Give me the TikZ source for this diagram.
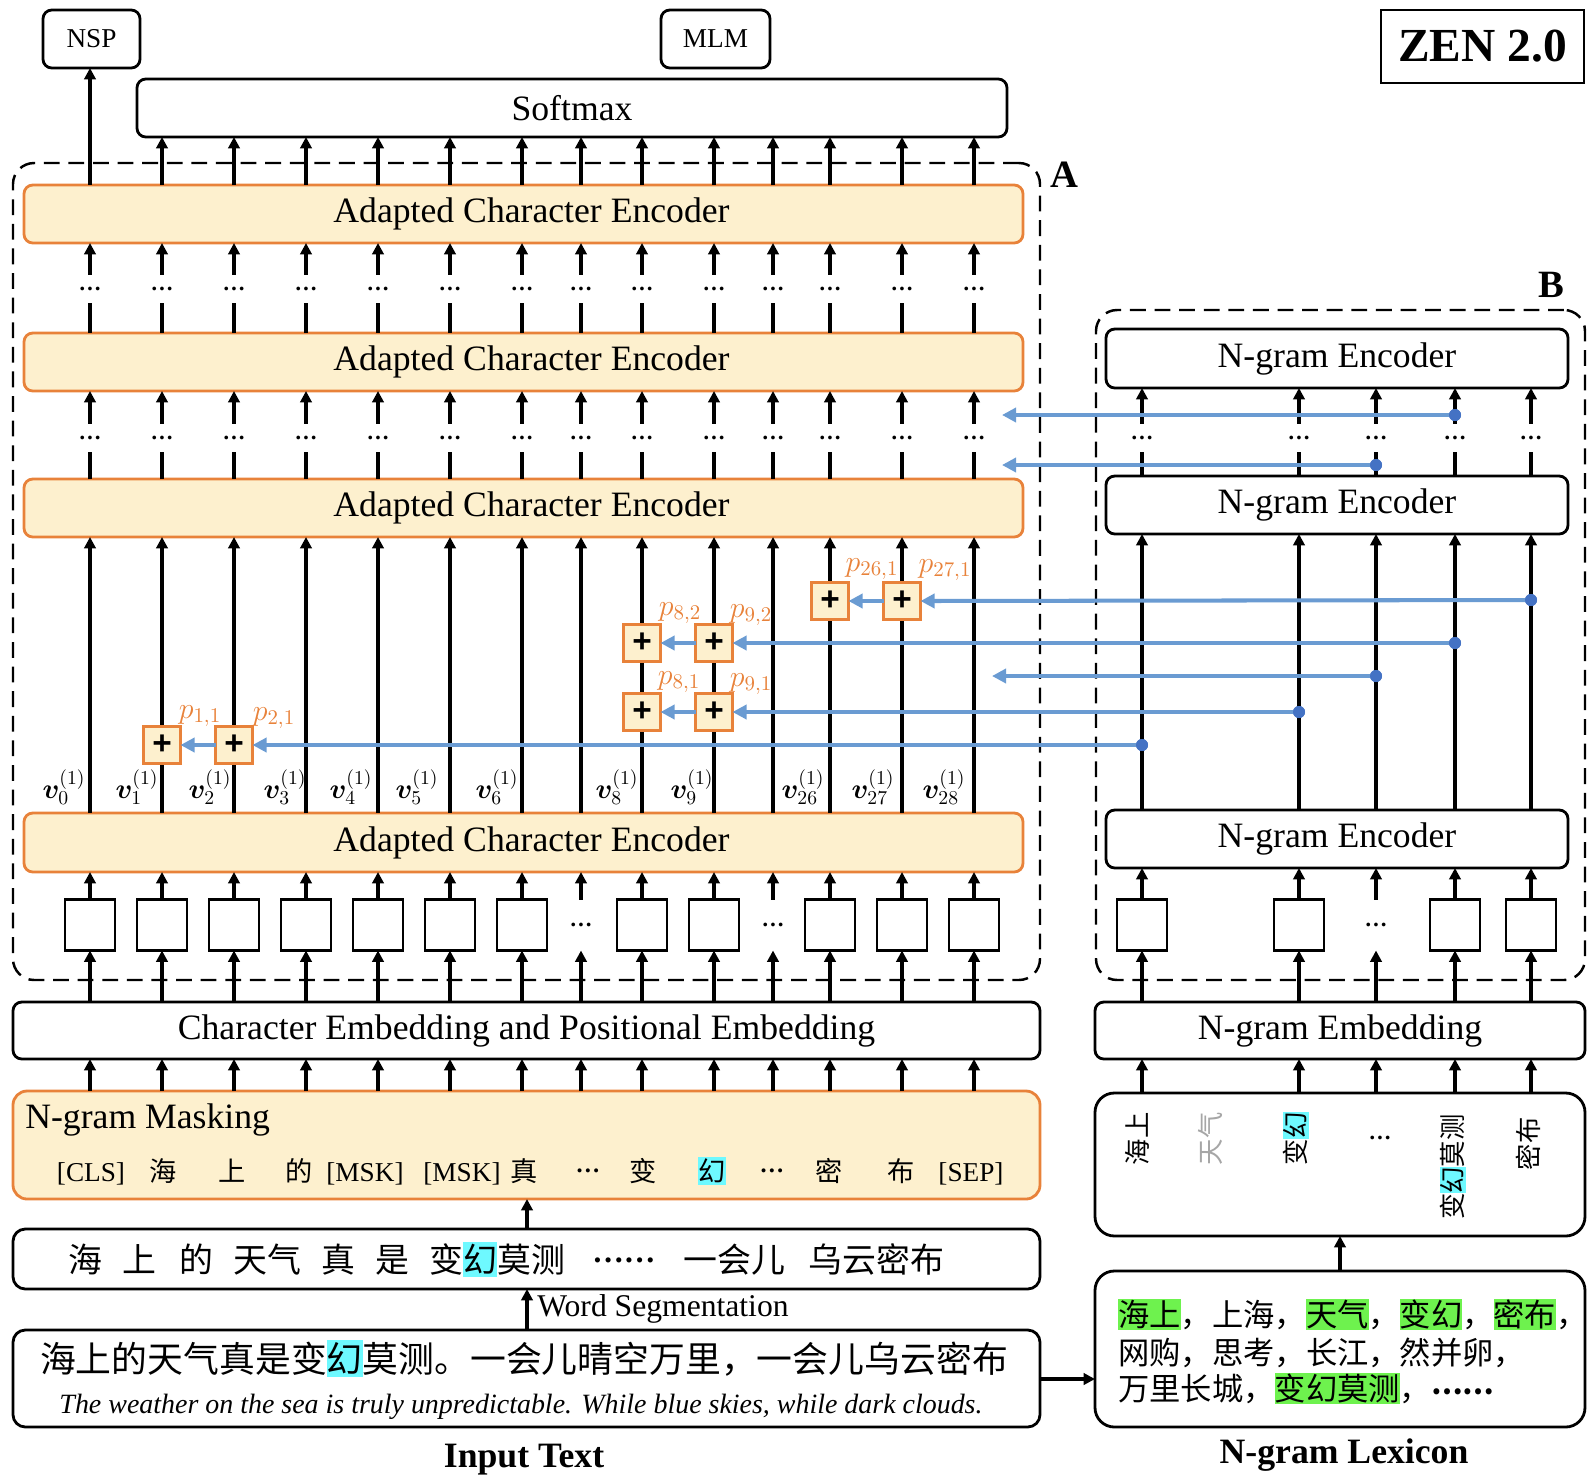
\RequirePackage{fix-cm}
\documentclass[tikz,border=0pt]{standalone}
\usepackage{fontspec}
\usepackage{bm}
\setmainfont{Liberation Serif}
\newfontfamily\cjk{Noto Sans CJK SC}
\newfontfamily\sansf{Liberation Sans}
\usetikzlibrary{arrows.meta}
\definecolor{encorange}{HTML}{E8823A}
\definecolor{encfill}{HTML}{FDF0CE}
\definecolor{lblue}{HTML}{6A9BD2}
\definecolor{dblue}{HTML}{4472C4}
\definecolor{hcyan}{HTML}{6EF9FF}
\definecolor{hgreen}{HTML}{6EF24E}
\newcommand\hlc[1]{{\setlength{\fboxsep}{0pt}\colorbox{hcyan}{\rule[-0.14em]{0pt}{1.02em}#1}}}
\newcommand\hlg[1]{{\setlength{\fboxsep}{0pt}\colorbox{hgreen}{\rule[-0.14em]{0pt}{1.02em}#1}}}
\newcommand\fz[1]{\fontsize{#1}{#1}\selectfont}
\newcommand\ace{\hspace*{0.32cm}Adapted Character Encoder}
\tikzset{
  bx/.style n args={4}{minimum width={(#3-#1)*0.02cm}, minimum height={(#4-#2)*0.02cm}, at={({(#1+#3)/2},{(#2+#4)/2})}},
  pbox/.style={draw=black, line width=1.6pt, fill=white, rounded corners=5pt, inner sep=0pt, outer sep=0pt, font=\fz{20.3}},
  ebox/.style={draw=encorange, fill=encfill, line width=1.6pt, rounded corners=5pt, inner sep=0pt, outer sep=0pt, font=\fz{20.3}},
  dbox/.style={draw=black, line width=1.4pt, dash pattern=on 9pt off 5pt, rounded corners=12pt, inner sep=0pt, outer sep=0pt},
  sqbox/.style={draw=black, line width=1.6pt, fill=white, minimum width=1cm, minimum height=1.02cm, inner sep=0pt, outer sep=0pt},
  dotsq/.style={minimum width=1cm, minimum height=1.02cm, inner sep=0pt, outer sep=0pt, font=\bfseries\fz{13}},
  gapdots/.style={minimum height=0.56cm, inner sep=0pt, outer sep=0pt, font=\bfseries\fz{13}},
  arr/.style={line width=1.8pt, -{Triangle[length=6.5pt,width=6.5pt]}},
  ln/.style={line width=1.8pt},
  bl/.style={draw=lblue, line width=2.3pt, -{Triangle[length=8pt,width=8pt]}},
  plus/.style={draw=encorange, fill=encfill, line width=1.5pt, minimum size=0.74cm, inner sep=0pt, outer sep=0pt, font=\sansf\bfseries\fz{19}},
  bdot/.style={circle, fill=dblue, minimum size=0.24cm, inner sep=0pt, outer sep=0pt},
  plab/.style={text=encorange, font=\fz{17}, inner sep=0pt},
  vlab/.style={font=\fz{16}, inner sep=0pt},
  vtext/.style={rotate=90, anchor=east, inner sep=0pt, font=\cjk\fz{15}},
  tok/.style={anchor=base, inner sep=0pt, font=\fz{15.5}},
  ctok/.style={anchor=base, inner sep=0pt, font=\cjk\fz{15.5}},
  seg/.style={anchor=base west, inner sep=0pt, font=\cjk\fz{19.3}},
  lexl/.style={anchor=base west, inner sep=0pt, font=\cjk\fz{17.8}},
}
\begin{document}
\begin{tikzpicture}[x=0.02cm,y=-0.02cm]
\useasboundingbox (0,0) rectangle (1596,1482);
\foreach \i/\x in {0/90,1/162,2/234,3/306,4/378,5/450,6/522,7/581,8/642,9/714,10/773,11/830,12/902,13/974}
  \coordinate (c\i) at (\x,0);
\foreach \i/\x in {1/1142,2/1299,3/1376,4/1455,5/1531}
  \coordinate (b\i) at (\x,0);
\coordinate (rowA) at (0,288.5);
\coordinate (rowB) at (0,437.5);
\coordinate (rowS) at (0,925);
\coordinate (cmid) at (527,0);
\coordinate (lexmid) at (1340,0);
\coordinate (ylex) at (0,1379);

% dashed frames
\node[dbox, bx={13}{163}{1040}{980}] (frameA) {};
\node[dbox, bx={1096}{310}{1585}{980}] (frameB) {};
\node[font=\bfseries\fz{22}, inner sep=0pt] (labA) at (1064,175) {A};
\node[font=\bfseries\fz{22}, inner sep=0pt] (labB) at (1551,285) {B};

% top
\node[pbox, bx={43}{10}{140}{68}, font=\fz{15.5}] (nsp) {NSP};
\node[pbox, bx={661}{10}{770}{68}, font=\fz{15.5}] (mlm) {MLM};
\node[draw=black, line width=1.2pt, bx={1381}{10}{1584}{83}, inner sep=0pt, font=\bfseries\fz{27}] (zen) {ZEN 2.0};
\node[pbox, bx={137}{79}{1007}{137}] (soft) {Softmax};

% character encoders
\node[ebox, bx={24}{185}{1023}{243}] (enc1) {\ace};
\node[ebox, bx={24}{333}{1023}{391}] (enc2) {\ace};
\node[ebox, bx={24}{479}{1023}{537}] (enc3) {\ace};
\node[ebox, bx={24}{813}{1023}{872}] (enc4) {\ace};

% n-gram encoders
\node[pbox, bx={1106}{329}{1568}{388}] (ng3) {N-gram Encoder};
\node[pbox, bx={1106}{476}{1568}{534}] (ng2) {N-gram Encoder};
\node[pbox, bx={1106}{810}{1568}{868}] (ng1) {N-gram Encoder};

% lower boxes left
\node[pbox, bx={13}{1002}{1040}{1059}] (emb) {Character Embedding and Positional Embedding};
\node[ebox, rounded corners=8pt, bx={13}{1091}{1040}{1199}] (mask) {};
\node[pbox, rounded corners=7pt, bx={13}{1229}{1040}{1289}] (segb) {};
\node[pbox, rounded corners=7pt, bx={13}{1330}{1040}{1427}] (inp) {};

% lower boxes right
\node[pbox, bx={1095}{1002}{1585}{1059}] (nemb) {N-gram Embedding};
\node[pbox, rounded corners=11pt, bx={1095}{1093}{1585}{1236}] (vbox) {};
\node[pbox, rounded corners=11pt, bx={1095}{1271}{1585}{1427}] (lex) {};

% top arrows
\draw[arr] (enc1.north -| c0) -- (nsp.south -| c0);
\foreach \i in {1,...,13} \draw[arr] (enc1.north -| c\i) -- (soft.south -| c\i);

% gaps with dots between encoders
\foreach \i in {0,...,13} {
  \node[gapdots] (ga\i) at (c\i |- rowA) {…};
  \draw[arr] (ga\i.north) -- (enc1.south -| c\i);
  \draw[ln] (enc2.north -| c\i) -- (ga\i.south);
  \node[gapdots] (gb\i) at (c\i |- rowB) {…};
  \draw[arr] (gb\i.north) -- (enc2.south -| c\i);
  \draw[ln] (enc3.north -| c\i) -- (gb\i.south);
}
\foreach \i in {1,...,5} {
  \node[gapdots] (gn\i) at (b\i |- rowB) {…};
  \draw[arr] (gn\i.north) -- (ng3.south -| b\i);
  \draw[ln] (ng2.north -| b\i) -- (gn\i.south);
}

% long vertical arrows
\foreach \i in {0,...,13} \draw[arr] (enc4.north -| c\i) -- (enc3.south -| c\i);
\foreach \i in {1,...,5} \draw[arr] (ng1.north -| b\i) -- (ng2.south -| b\i);

% squares left
\foreach \i in {0,1,2,3,4,5,6,8,9,11,12,13} \node[sqbox] (sq\i) at (c\i |- rowS) {};
\foreach \i in {7,10} \node[dotsq] (sq\i) at (c\i |- rowS) {…};
\foreach \i in {0,...,13} {
  \draw[arr] (sq\i.north) -- (enc4.south -| c\i);
  \draw[arr] (emb.north -| c\i) -- (sq\i.south);
  \draw[arr] (mask.north -| c\i) -- (emb.south -| c\i);
}
% squares right
\foreach \i in {1,2,4,5} \node[sqbox] (bsq\i) at (b\i |- rowS) {};
\node[dotsq] (bsq3) at (b3 |- rowS) {…};
\foreach \i in {1,...,5} {
  \draw[arr] (bsq\i.north) -- (ng1.south -| b\i);
  \draw[arr] (nemb.north -| b\i) -- (bsq\i.south);
  \draw[arr] (vbox.north -| b\i) -- (nemb.south -| b\i);
}

% input flow
\draw[arr] (segb.north -| cmid) -- (mask.south -| cmid);
\draw[arr] (inp.north -| cmid) -- (segb.south -| cmid);
\node[anchor=base west, inner sep=0pt, font=\fz{18}] (wseg) at (537,1316) {Word Segmentation};
\draw[arr] (inp.east |- ylex) -- (lex.west |- ylex);
\draw[arr] (lex.north -| lexmid) -- (vbox.south -| lexmid);

% plus boxes
\node[plus] (pl11) at (162,745) {+};
\node[plus] (pl21) at (234,745) {+};
\node[plus] (pl81) at (642,712) {+};
\node[plus] (pl91) at (714,712) {+};
\node[plus] (pl82) at (642,643) {+};
\node[plus] (pl92) at (714,643) {+};
\node[plus] (pl261) at (830,601) {+};
\node[plus] (pl271) at (902,601) {+};
\node[plab] (lp11) at (200,716) {$p_{1,1}$};
\node[plab] (lp21) at (274,718) {$p_{2,1}$};
\node[plab] (lp81) at (679,682) {$p_{8,1}$};
\node[plab] (lp91) at (751,684) {$p_{9,1}$};
\node[plab] (lp82) at (680,613) {$p_{8,2}$};
\node[plab] (lp92) at (751,615) {$p_{9,2}$};
\node[plab] (lp261) at (872,569) {$p_{26,1}$};
\node[plab] (lp271) at (945,570) {$p_{27,1}$};

% blue connections
\node[bdot] (bd1) at (1455,415) {};
\node[bdot] (bd2) at (1376,465) {};
\node[bdot] (bd3) at (1531,600) {};
\node[bdot] (bd4) at (1455,643) {};
\node[bdot] (bd5) at (1376,676) {};
\node[bdot] (bd6) at (1299,712) {};
\node[bdot] (bd7) at (1142,745) {};
\coordinate (e1) at (1002,415);
\coordinate (e2) at (1002,465);
\coordinate (e3) at (992,676);
\draw[bl] (bd1.center) -- (e1);
\draw[bl] (bd2.center) -- (e2);
\draw[bl] (bd3.center) -- (pl271.east);
\draw[bl] (pl271.west) -- (pl261.east);
\draw[bl] (bd4.center) -- (pl92.east);
\draw[bl] (pl92.west) -- (pl82.east);
\draw[bl] (bd5.center) -- (e3);
\draw[bl] (bd6.center) -- (pl91.east);
\draw[bl] (pl91.west) -- (pl81.east);
\draw[bl] (bd7.center) -- (pl21.east);
\draw[bl] (pl21.west) -- (pl11.east);
\foreach \n in {1,...,7}
  \fill[dblue] (bd\n) circle[radius=6];

% v labels
\node[vlab] (v0) at (64,787) {$\bm{v}_{0}^{(1)}$};
\node[vlab] (v1) at (137,787) {$\bm{v}_{1}^{(1)}$};
\node[vlab] (v2) at (210,787) {$\bm{v}_{2}^{(1)}$};
\node[vlab] (v3) at (285,787) {$\bm{v}_{3}^{(1)}$};
\node[vlab] (v4) at (351,787) {$\bm{v}_{4}^{(1)}$};
\node[vlab] (v5) at (417,787) {$\bm{v}_{5}^{(1)}$};
\node[vlab] (v6) at (497,787) {$\bm{v}_{6}^{(1)}$};
\node[vlab] (v8) at (617,787) {$\bm{v}_{8}^{(1)}$};
\node[vlab] (v9) at (692,787) {$\bm{v}_{9}^{(1)}$};
\node[vlab] (v26) at (803,787) {$\bm{v}_{26}^{(1)}$};
\node[vlab] (v27) at (873,787) {$\bm{v}_{27}^{(1)}$};
\node[vlab] (v28) at (944,787) {$\bm{v}_{28}^{(1)}$};

% masking contents
\node[anchor=base west, inner sep=0pt, font=\fz{20.3}] (masklab) at (25,1128) {N-gram Masking};
\node[tok] (t0) at (91,1181) {[CLS]};
\node[ctok] (t1) at (163,1181) {海};
\node[ctok] (t2) at (232,1181) {上};
\node[ctok] (t3) at (299,1181) {的};
\node[tok] (t4) at (365,1181) {[MSK]};
\node[tok] (t5) at (462,1181) {[MSK]};
\node[ctok] (t6) at (524,1181) {真};
\node[tok, font=\bfseries\fz{14}] (t7) at (588,1181) {\raisebox{0.35em}{…}};
\node[ctok] (t8) at (643,1181) {变};
\node[ctok] (t9) at (712,1181) {\hlc{幻}};
\node[tok, font=\bfseries\fz{14}] (t10) at (772,1181) {\raisebox{0.35em}{…}};
\node[ctok] (t11) at (829,1181) {密};
\node[ctok] (t12) at (901,1181) {布};
\node[tok] (t13) at (971,1181) {[SEP]};

% segmented text
\node[seg] (s1) at (68,1272) {海};
\node[seg] (s2) at (122,1272) {上};
\node[seg] (s3) at (179,1272) {的};
\node[seg] (s4) at (233,1272) {天气};
\node[seg] (s5) at (321,1272) {真};
\node[seg] (s6) at (375,1272) {是};
\node[seg] (s7) at (429,1272) {变\hlc{幻}莫测};
\node[seg, font=\bfseries\fz{18}] (s8) at (592,1272) {\raisebox{0.3em}{……}};
\node[seg] (s9) at (683,1272) {一会儿};
\node[seg] (s10) at (808,1272) {乌云密布};

% input text
\node[anchor=base, inner sep=0pt, font=\cjk\fz{20.4}] (inzh) at (524,1372) {海上的天气真是变\hlc{幻}莫测。一会儿晴空万里，一会儿乌云密布};
\node[anchor=base, inner sep=0pt, font=\itshape\fz{15.9}] (inen) at (521,1413) {The weather on the sea is truly unpredictable. While blue skies, while dark clouds.};
\node[font=\bfseries\fz{20.3}, inner sep=0pt] (intitle) at (524,1460) {Input Text};

% vertical n-grams
\node[vtext] (vt1) at (1137,1112) {海上};
\node[vtext, text=gray!70] (vt2) at (1210,1112) {天气};
\node[vtext] (vt3) at (1296,1112) {变\hlc{幻}};
\node[font=\bfseries\fz{13}, inner sep=0pt] (vt4) at (1380,1138) {…};
\node[vtext] (vt5) at (1453,1114) {变\hlc{幻}莫测};
\node[vtext] (vt6) at (1528,1117) {密布};

% lexicon
\node[lexl] (lx1) at (1118,1326) {\hlg{海上}，上海，\hlg{天气}，\hlg{变幻}，\hlg{密布}，};
\node[lexl] (lx2) at (1118,1364) {网购，思考，长江，然并卵，};
\node[lexl] (lx3) at (1118,1400) {万里长城，\hlg{变幻莫测}，{\bfseries\fz{16}\raisebox{0.2em}{……}}};
\node[font=\bfseries\fz{20.3}, inner sep=0pt] (lextitle) at (1344,1455) {N-gram Lexicon};
\end{tikzpicture}
\end{document}
